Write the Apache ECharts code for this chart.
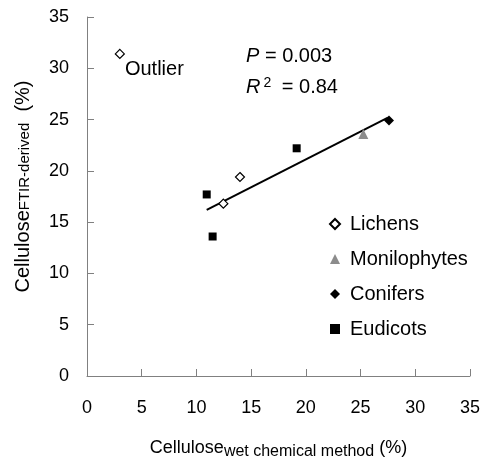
<!DOCTYPE html>
<html><head><meta charset="utf-8">
<script src="https://cdn.jsdelivr.net/npm/echarts@6/dist/echarts.min.js"></script>
<style>html,body{margin:0;padding:0;background:#fff}#c{width:484px;height:461px}</style>
</head><body><div id="c"></div>
<script>
// Data
const lichens = [[3.0, 31.4], [12.46, 16.8], [13.98, 19.4]];
const monilophytes = [[25.25, 23.6]];
const conifers = [[27.6, 24.9]];
const eudicots = [[10.94, 17.7], [11.48, 13.6], [19.16, 22.2]];
const trend = [[10.94, 16.2], [27.5, 25.2]];
const xTicks = [0, 5, 10, 15, 20, 25, 30, 35];
const yTicks = [0, 5, 10, 15, 20, 25, 30, 35];
const outlierIndex = 0;

const FONT = 'Liberation Sans, Arial, sans-serif';
const AX = '#808080';
const chart = echarts.init(document.getElementById('c'), null, {renderer: 'canvas'});

const lichenData = lichens.map((p, i) => i === outlierIndex ? {
  value: p,
  label: {show: true, formatter: 'Outlier', position: 'right', offset: [-5, 16], color: '#000',
    fontSize: 20, fontFamily: FONT, textBorderWidth: 0, opacity: 1}
} : {value: p});

chart.setOption({
  animation: false,
  backgroundColor: '#fff',
  grid: {left: 87, top: 17, right: 14, bottom: 85, containLabel: false, outerBoundsMode: 'none'},
  xAxis: {
    type: 'value', min: 0, max: 35, interval: 5,
    axisLine: {show: true, lineStyle: {color: AX, width: 1}},
    axisTick: {show: true, inside: true, length: 7, lineStyle: {color: AX}},
    splitLine: {show: false},
    axisLabel: {color: '#000', fontSize: 18, fontFamily: FONT, margin: 23,
      formatter: v => xTicks.includes(v) ? String(v) : ''},
    name: '{a|Cellulose}{b|wet chemical method}{a| (%)}',
    nameLocation: 'middle', nameGap: 60,
    nameTextStyle: {rich: {
      a: {fontSize: 18, fontFamily: FONT, color: '#000'},
      b: {fontSize: 16, fontFamily: FONT, color: '#000', padding: [8, 0, 0, 0]}
    }}
  },
  yAxis: {
    type: 'value', min: 0, max: 35, interval: 5,
    axisLine: {show: true, lineStyle: {color: AX, width: 1}},
    axisTick: {show: true, inside: true, length: 7, lineStyle: {color: AX}},
    splitLine: {show: false},
    axisLabel: {color: '#000', fontSize: 18, fontFamily: FONT, margin: 18,
      formatter: v => yTicks.includes(v) ? String(v) : ''},
    name: '{a|Cellulose}{b|FTIR-derived}{a|  (%)}',
    nameLocation: 'middle', nameGap: 54, nameRotate: 90,
    nameTextStyle: {padding: [0, 0, 0, 20], rich: {
      a: {fontSize: 20, fontFamily: FONT, color: '#000'},
      b: {fontSize: 15, fontFamily: FONT, color: '#000', padding: [3, 0, 0, 0]}
    }}
  },
  legend: {
    orient: 'vertical', left: 329, top: 214, itemGap: 15, padding: 0,
    itemWidth: 10, itemHeight: 10,
    textStyle: {color: '#000', fontSize: 20, fontFamily: FONT, padding: [0, 0, 0, 5]},
    data: ['Lichens', 'Monilophytes', 'Conifers', 'Eudicots']
  },
  graphic: [
    {type: 'text', left: 246, top: 46, style: {
      text: '{i|P} = 0.003', fill: '#000',
      rich: {i: {fontStyle: 'italic', fontSize: 20, fontFamily: FONT}},
      font: '20px ' + FONT}},
    {type: 'text', left: 246, top: 76, style: {
      text: '{i|R}{s|2} = 0.84', fill: '#000',
      rich: {i: {fontStyle: 'italic', fontSize: 20, fontFamily: FONT},
             s: {fontSize: 14, fontFamily: FONT, verticalAlign: 'top', padding: [0, 5, 8, 3]}},
      font: '20px ' + FONT}}
  ],
  series: [
    {name: 'Trend', type: 'line', data: trend, symbol: 'none',
      lineStyle: {color: '#000', width: 2}, z: 1, silent: true},
    {name: 'Lichens', type: 'scatter', data: lichenData, symbol: 'diamond', symbolSize: 9,
      itemStyle: {color: '#fff', borderColor: '#000', borderWidth: 1.2, opacity: 1}, z: 3},
    {name: 'Monilophytes', type: 'scatter', data: monilophytes, symbol: 'triangle', symbolSize: 10,
      itemStyle: {color: '#8c8c8c', opacity: 1}, z: 3},
    {name: 'Conifers', type: 'scatter', data: conifers, symbol: 'diamond', symbolSize: 10,
      itemStyle: {color: '#000', opacity: 1}, z: 3},
    {name: 'Eudicots', type: 'scatter', data: eudicots, symbol: 'rect', symbolSize: 8,
      itemStyle: {color: '#000', opacity: 1}, z: 3}
  ]
});
</script></body></html>
